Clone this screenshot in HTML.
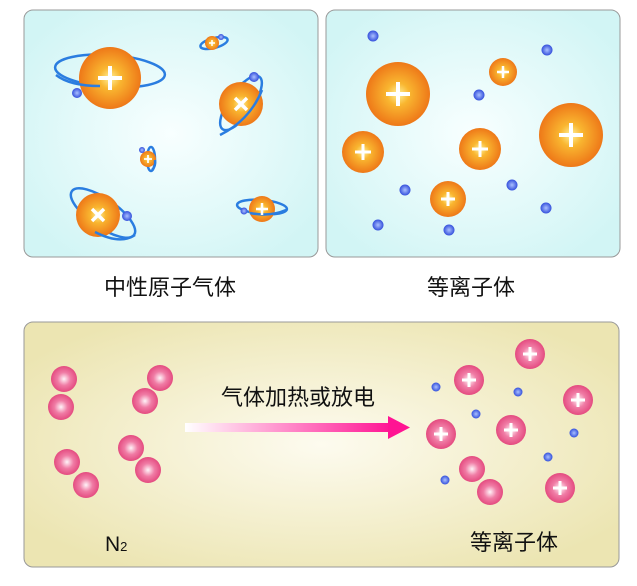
<!DOCTYPE html>
<html><head><meta charset="utf-8"><style>
html,body{margin:0;padding:0;background:#fff;}
svg{display:block}
text{font-family:"Liberation Sans","Noto Sans CJK SC",sans-serif;}
</style></head><body>
<svg width="637" height="586" viewBox="0 0 637 586" xmlns="http://www.w3.org/2000/svg">
<defs>
<radialGradient id="bgc" cx="0.5" cy="0.5" r="0.6"><stop offset="0" stop-color="#f8ffff"/><stop offset="1" stop-color="#d2f5f5"/></radialGradient>
<radialGradient id="bgy" cx="0.5" cy="0.5" r="0.6"><stop offset="0" stop-color="#fdfbef"/><stop offset="1" stop-color="#ece5b2"/></radialGradient>
<radialGradient id="or" cx="0.5" cy="0.5" r="0.5"><stop offset="0" stop-color="#fff19a"/><stop offset="0.35" stop-color="#f9b630"/><stop offset="1" stop-color="#ee7818"/></radialGradient>
<radialGradient id="pk" cx="0.5" cy="0.5" r="0.5"><stop offset="0" stop-color="#fff4f8"/><stop offset="0.5" stop-color="#f07ca5"/><stop offset="1" stop-color="#e44b80"/></radialGradient>
<radialGradient id="bl" cx="0.5" cy="0.5" r="0.5"><stop offset="0" stop-color="#aac0ff"/><stop offset="1" stop-color="#3450dc"/></radialGradient>
<linearGradient id="ar" x1="0" x2="1"><stop offset="0" stop-color="#fff"/><stop offset="1" stop-color="#ff1493"/></linearGradient>
</defs>
<rect x="24" y="10" width="294" height="247" rx="9" fill="url(#bgc)" stroke="#999"/>
<rect x="326" y="10" width="294" height="247" rx="9" fill="url(#bgc)" stroke="#999"/>
<rect x="24" y="322" width="595" height="245" rx="9" fill="url(#bgy)" stroke="#999"/>

<!-- top-left orbits (back) -->
<g stroke="#2a7de0" stroke-width="2.5" fill="none">
<ellipse cx="110" cy="71" rx="55" ry="16" transform="rotate(4 110 71)"/>
<ellipse cx="214" cy="43" rx="14" ry="5" transform="rotate(-15 214 43)"/>
<ellipse cx="241" cy="103" rx="12" ry="32" transform="rotate(35 241 103)"/>
<ellipse cx="151" cy="159" rx="4" ry="12"/>
<ellipse cx="103" cy="213" rx="38" ry="14" transform="rotate(35 103 213)"/>
<ellipse cx="262" cy="207" rx="25" ry="7" transform="rotate(5 262 207)"/>
</g>
<g fill="url(#or)">
<circle cx="110" cy="78" r="31"/><circle cx="212" cy="43" r="7"/><circle cx="241" cy="104" r="22"/>
<circle cx="148" cy="159" r="8"/><circle cx="98" cy="215" r="22"/><circle cx="262" cy="209" r="13"/>
</g>
<g stroke="#2a7de0" stroke-width="2.5" fill="none">
<path d="M56,75 Q70,86 100,86"/>
<path d="M220,135 Q250,120 262,90"/>
<path d="M95,232 Q120,245 135,235"/>
<path d="M152,170 Q156,166 155,160"/>
<path d="M250,213 Q270,217 286,210"/>
</g>
<g stroke="#fff" stroke-width="4">
<path d="M110,66V90M98,78H122"/><path d="M235,98L247,110M247,98L235,110" stroke-width="3.5"/>
<path d="M92,209L104,221M104,209L92,221" stroke-width="3.5"/>
<path d="M262,203V215M256,209H268" stroke-width="2.5"/><path d="M148,155V163M144,159H152" stroke-width="1.8"/>
<path d="M212,40V46M209,43H215" stroke-width="1.5"/>
</g>
<g fill="url(#bl)"><circle cx="77" cy="93" r="5"/><circle cx="254" cy="77" r="5"/><circle cx="127" cy="216" r="5"/><circle cx="244" cy="211" r="3.5"/><circle cx="142" cy="150" r="3"/><circle cx="221" cy="37" r="3"/></g>

<!-- top-right -->
<g fill="url(#or)">
<circle cx="398" cy="94" r="32"/><circle cx="571" cy="135" r="32"/><circle cx="503" cy="72" r="14"/>
<circle cx="363" cy="152" r="21"/><circle cx="480" cy="149" r="21"/><circle cx="448" cy="199" r="18"/>
</g>
<g stroke="#fff" stroke-width="4">
<path d="M398,82V106M386,94H410"/><path d="M571,123V147M559,135H583"/>
<path d="M503,66V78M497,72H509" stroke-width="2.5"/><path d="M363,144V160M355,152H371" stroke-width="3"/>
<path d="M480,141V157M472,149H488" stroke-width="3"/><path d="M448,192V206M441,199H455" stroke-width="3"/>
</g>
<g fill="url(#bl)">
<circle cx="373" cy="36" r="5.5"/><circle cx="547" cy="50" r="5.5"/><circle cx="479" cy="95" r="5.5"/>
<circle cx="512" cy="185" r="5.5"/><circle cx="405" cy="190" r="5.5"/><circle cx="378" cy="225" r="5.5"/>
<circle cx="546" cy="208" r="5.5"/><circle cx="449" cy="230" r="5.5"/>
</g>

<text x="170" y="295" font-size="22" text-anchor="middle" fill="#111">中性原子气体</text>
<text x="471" y="295" font-size="22" text-anchor="middle" fill="#111">等离子体</text>

<!-- bottom -->
<g fill="url(#pk)">
<circle cx="64" cy="379" r="13"/><circle cx="61" cy="407" r="13"/><circle cx="160" cy="378" r="13"/><circle cx="145" cy="401" r="13"/>
<circle cx="67" cy="462" r="13"/><circle cx="86" cy="485" r="13"/><circle cx="131" cy="448" r="13"/><circle cx="148" cy="470" r="13"/>
<circle cx="530" cy="354" r="15"/><circle cx="469" cy="380" r="15"/><circle cx="578" cy="400" r="15"/>
<circle cx="441" cy="434" r="15"/><circle cx="511" cy="430" r="15"/><circle cx="560" cy="488" r="15"/>
<circle cx="472" cy="469" r="13"/><circle cx="490" cy="492" r="13"/>
</g>
<g stroke="#fff" stroke-width="3">
<path d="M530,347V361M523,354H537"/><path d="M469,373V387M462,380H476"/><path d="M578,393V407M571,400H585"/>
<path d="M441,427V441M434,434H448"/><path d="M511,423V437M504,430H518"/><path d="M560,481V495M553,488H567"/>
</g>
<g fill="url(#bl)">
<circle cx="436" cy="387" r="4.5"/><circle cx="518" cy="392" r="4.5"/><circle cx="476" cy="414" r="4.5"/>
<circle cx="574" cy="433" r="4.5"/><circle cx="548" cy="457" r="4.5"/><circle cx="445" cy="480" r="4.5"/>
</g>
<rect x="185" y="423" width="207" height="9" fill="url(#ar)"/>
<polygon points="388,416 410,427.5 388,439" fill="#ff1493"/>
<text x="298" y="405" font-size="22" text-anchor="middle" fill="#111">气体加热或放电</text>
<text x="105" y="551" font-size="21" fill="#111">N<tspan font-size="13">2</tspan></text>
<text x="514" y="550" font-size="22" text-anchor="middle" fill="#111">等离子体</text>
</svg>
</body></html>
